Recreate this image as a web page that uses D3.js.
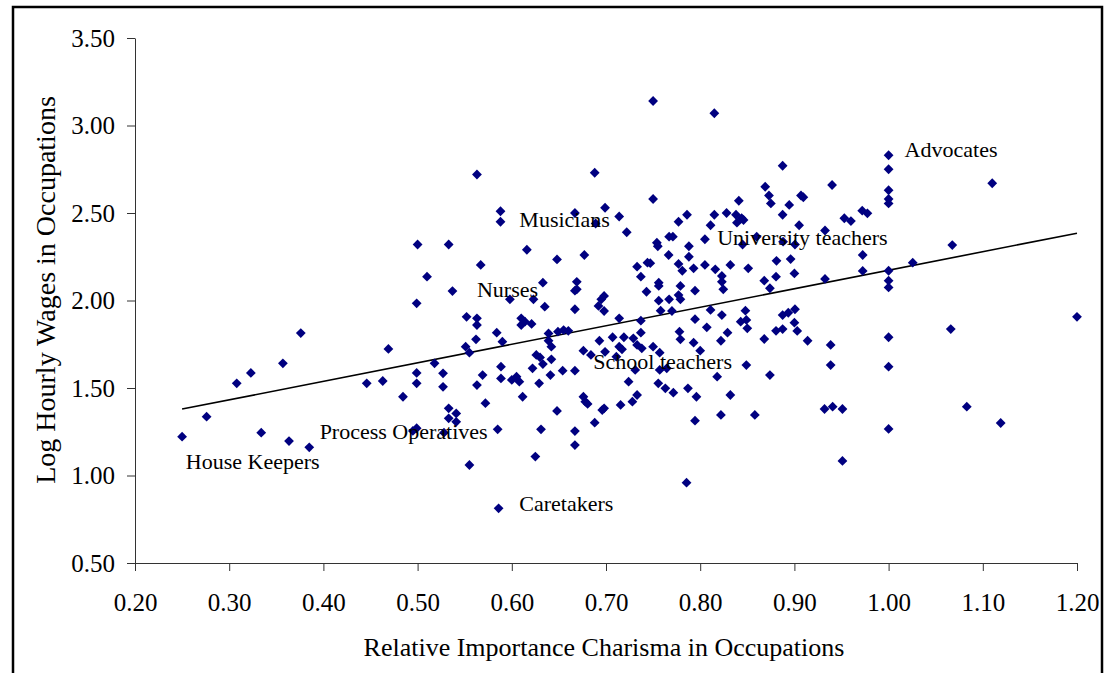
<!DOCTYPE html>
<html>
<head>
<meta charset="utf-8">
<script src="https://cdn.jsdelivr.net/npm/d3@7/dist/d3.min.js"></script>
<style>
  html, body { margin: 0; padding: 0; background: #fff; }
  svg { display: block; }
  text { font-family: "Liberation Serif", "Times New Roman", serif; fill: #000; }
</style>
</head>
<body>
<svg id="chart" width="1104" height="673"></svg>
<script>
// ---- Data ----
const charisma = [
  0.500,0.533,
  0.750,0.815,0.563,0.688,0.750,0.588,0.588,0.667,0.699,0.689,0.714,0.722,0.616,0.754,0.767,0.771,0.777,0.786,
  0.788,0.805,0.811,0.815,0.828,0.841,0.838,0.844,0.839,0.846,0.869,0.873,0.875,0.860,0.845,0.755,
  0.8875,1.000,1.000,1.000,1.000,1.000,1.110,0.940,0.907,0.9095,0.8945,0.8875,0.905,0.953,0.960,0.972,0.9775,0.9325,1.0676,0.888,0.9006,
  0.510,0.537,0.499,0.376,0.469,0.357,0.323,0.308,0.446,0.463,0.4845,0.499,0.499,0.518,0.527,0.527,
  0.648,0.677,0.567,0.7665,0.788,0.733,0.744,0.747,0.737,0.777,0.781,0.793,0.805,0.816,0.832,0.851,0.881,0.823,0.823,0.8245,
  0.868,0.8805,0.874,0.756,0.756,0.743,0.779,0.777,0.779,0.767,0.756,0.7945,0.758,0.770,0.633,0.669,0.667,0.669,0.598,0.623,
  0.635,0.667,0.698,0.695,0.692,0.698,0.552,0.563,0.563,0.610,0.614,0.610,0.621,0.584,0.562,0.590,0.551,0.555,0.639,0.649,
  0.655,0.660,0.639,0.642,0.626,0.630,0.642,0.622,0.633,0.5885,0.569,0.563,0.5885,0.600,0.605,0.608,0.629,0.641,0.654,0.667,
  0.6115,0.676,0.684,0.693,0.707,0.699,0.714,0.717,0.711,0.719,0.729,0.737,0.714,0.737,0.733,0.738,0.750,0.757,0.731,0.757,
  0.7645,0.724,0.7555,0.763,0.7715,0.787,0.733,0.796,0.676,0.818,0.832,0.849,0.874,0.778,0.779,0.793,0.800,0.7945,0.807,0.811,
  0.823,0.829,0.822,0.848,0.843,0.849,0.850,0.868,0.8805,
  0.896,0.900,0.9725,0.9725,0.9325,1.000,1.000,1.000,1.0256,0.8875,0.8935,0.9006,0.8875,0.900,0.903,0.914,0.9385,0.9385,1.000,1.000,
  1.066,1.200,
  0.276,0.250,0.334,0.3635,0.385,0.499,0.528,0.533,0.533,0.541,0.541,0.495,
  0.572,0.585,0.555,0.586,0.631,0.648,0.625,0.667,0.667,0.678,0.6805,0.698,0.696,0.688,0.7155,0.728,0.7945,0.822,0.858,0.7855,
  0.932,0.9406,0.951,1.000,1.083,1.119,0.951
];
const logWage = [
  2.32,2.32,
  3.14,3.07,2.72,2.73,2.58,2.51,2.45,2.50,2.53,2.44,2.48,2.39,2.29,2.33,2.365,2.365,2.45,2.49,
  2.31,2.35,2.43,2.49,2.50,2.57,2.49,2.47,2.445,2.46,2.65,2.60,2.555,2.365,2.32,2.31,
  2.77,2.83,2.75,2.63,2.58,2.555,2.67,2.66,2.60,2.59,2.546,2.49,2.43,2.47,2.454,2.513,2.498,2.40,2.317,2.336,2.32,
  2.136,2.054,1.984,1.814,1.723,1.641,1.586,1.527,1.527,1.54,1.45,1.586,1.527,1.641,1.584,1.507,
  2.235,2.26,2.203,2.26,2.25,2.193,2.216,2.213,2.136,2.209,2.17,2.184,2.203,2.178,2.203,2.184,2.227,2.14,2.107,2.064,
  2.113,2.136,2.07,2.102,2.083,2.05,2.083,2.031,2.007,2.007,1.999,2.056,1.942,1.94,2.102,2.107,2.056,2.064,2.007,2.007,
  1.965,1.95,2.026,2.007,1.969,1.94,1.907,1.898,1.86,1.898,1.879,1.86,1.866,1.816,1.778,1.765,1.736,1.702,1.812,1.822,
  1.831,1.827,1.77,1.736,1.689,1.675,1.664,1.6125,1.637,1.622,1.574,1.517,1.555,1.546,1.565,1.536,1.527,1.574,1.599,1.599,
  1.45,1.713,1.689,1.77,1.79,1.707,1.736,1.721,1.679,1.79,1.784,1.816,1.898,1.885,1.746,1.727,1.736,1.702,1.603,1.603,
  1.6125,1.536,1.527,1.498,1.473,1.498,1.46,1.45,1.45,1.565,1.46,1.631,1.574,1.822,1.778,1.759,1.713,1.893,1.847,1.946,
  1.917,1.816,1.77,1.942,1.879,1.889,1.841,1.78,1.827,
  2.237,2.155,2.26,2.169,2.123,2.17,2.113,2.075,2.216,1.917,1.93,1.95,1.837,1.873,1.826,1.77,1.746,1.631,1.79,1.622,
  1.837,1.907,
  1.336,1.222,1.245,1.197,1.161,1.27,1.245,1.384,1.327,1.355,1.307,1.255,
  1.413,1.264,1.06,0.8125,1.264,1.369,1.108,1.254,1.174,1.422,1.409,1.384,1.374,1.302,1.403,1.422,1.313,1.346,1.346,0.959,
  1.38,1.393,1.38,1.266,1.393,1.30,1.083
];

const labelNames = ["Advocates","Musicians","University teachers","Nurses","School teachers","Process Operatives","House Keepers","Caretakers"];
const labelX     = [1.017, 0.608, 0.818, 0.563, 0.6865, 0.396, 0.254, 0.608];
const labelY     = [2.82, 2.422, 2.317, 2.022, 1.609, 1.207, 1.037, 0.799];

const xTicks = [0.2,0.3,0.4,0.5,0.6,0.7,0.8,0.9,1.0,1.1,1.2];
const yTicks = [0.5,1.0,1.5,2.0,2.5,3.0,3.5];

const trendIntercept = 1.115;
const trendSlope = 1.058;
const trendRange = [0.25, 1.2];

const xTitle = "Relative Importance Charisma in Occupations";
const yTitle = "Log Hourly Wages in Occupations";

// ---- Drawing ----
const svg = d3.select("#chart");
const x = d3.scaleLinear().domain([0.2, 1.2]).range([135, 1077]);
const y = d3.scaleLinear().domain([0.5, 3.5]).range([563, 38]);
const fmt = d3.format(".2f");

// outer frame
svg.append("rect").attr("x", 13).attr("y", 7).attr("width", 1089).attr("height", 720)
  .attr("fill", "none").attr("stroke", "#000").attr("stroke-width", 2.5);

// axes
const xAxis = svg.append("g").attr("transform", "translate(0,563)")
  .call(d3.axisBottom(x).tickValues(xTicks).tickFormat(fmt).tickSize(8).tickSizeOuter(0).tickPadding(22));
const yAxis = svg.append("g").attr("transform", "translate(135,0)")
  .call(d3.axisLeft(y).tickValues(yTicks).tickFormat(fmt).tickSize(8).tickSizeOuter(0).tickPadding(12));
[xAxis, yAxis].forEach(g => {
  g.selectAll("path.domain").attr("stroke", "#333").attr("stroke-width", 1);
  g.selectAll(".tick line").attr("stroke", "#333").attr("stroke-width", 1);
  g.selectAll(".tick text").style("font-family", '"Liberation Serif", "Times New Roman", serif')
    .style("font-size", "25px").attr("fill", "#000");
});

// trend line
svg.append("line")
  .attr("x1", x(trendRange[0])).attr("y1", y(trendIntercept + trendSlope * trendRange[0]))
  .attr("x2", x(trendRange[1])).attr("y2", y(trendIntercept + trendSlope * trendRange[1]))
  .attr("stroke", "#000").attr("stroke-width", 1.6);

// points
const pts = charisma.map((c, i) => ({ c, w: logWage[i] }));
const sym = d3.symbol().type(d3.symbolSquare).size(48);
svg.append("g").selectAll("path").data(pts).join("path")
  .attr("d", sym)
  .attr("transform", d => `translate(${x(d.c)},${y(d.w)}) rotate(45)`)
  .attr("fill", "#000080");

// labels
svg.append("g").selectAll("text").data(labelNames).join("text")
  .attr("x", (d, i) => x(labelX[i])).attr("y", (d, i) => y(labelY[i]))
  .style("font-size", "22px").text(d => d);

// axis titles
svg.append("text").attr("x", 604).attr("y", 656).attr("text-anchor", "middle")
  .style("font-size", "26px").text(xTitle);
svg.append("text").attr("transform", "translate(55,290) rotate(-90)").attr("text-anchor", "middle")
  .style("font-size", "28px").text(yTitle);
</script>
</body>
</html>
